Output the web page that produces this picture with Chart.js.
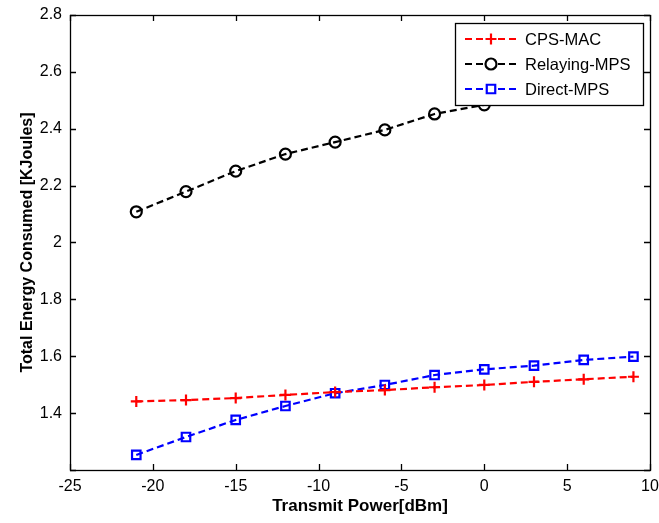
<!DOCTYPE html>
<html>
<head>
<meta charset="utf-8">
<script src="https://cdn.jsdelivr.net/npm/chart.js@4.4.1/dist/chart.umd.min.js"></script>
<style>
  html, body { margin: 0; padding: 0; background: #fff; }
  #wrap { width: 659px; height: 523px; }
</style>
</head>
<body>
<div id="wrap"><canvas id="chart" width="659" height="523"></canvas></div>
<script>
// valores
var potencia = [-21, -18, -15, -12, -9, -6, -3, 0, 3, 6, 9];
var cpsMac = [1.441, 1.446, 1.453, 1.464, 1.474, 1.481, 1.491, 1.499, 1.510, 1.519, 1.528];
var relayingMps = [2.108, 2.179, 2.251, 2.311, 2.353, 2.396, 2.452, 2.484, 2.510, 2.540, 2.570];
var directMps = [1.253, 1.316, 1.376, 1.425, 1.470, 1.499, 1.534, 1.554, 1.567, 1.587, 1.599];
var xTicks = [-25, -20, -15, -10, -5, 0, 5, 10];
var yTicks = [1.2, 1.4, 1.6, 1.8, 2.0, 2.2, 2.4, 2.6, 2.8];

function pares(ys) {
    return potencia.map(function(x, i) { return { x: x, y: ys[i] }; });
}

function serie(label, ys, color, estilo) {
    return {
        label: label,
        data: pares(ys),
        borderColor: color,
        backgroundColor: 'rgba(0,0,0,0)',
        borderWidth: 2.2,
        borderDash: [7, 4],
        pointStyle: estilo,
        pointRadius: estilo === 'rect' ? 6 : 5.5,
        pointBorderWidth: 2.2,
        pointBorderColor: color,
        pointBackgroundColor: 'rgba(0,0,0,0)',
        tension: 0
    };
}

// marco y marcas hacia dentro, estilo matlab
var marco = {
    id: 'marco',
    afterDraw: function(chart) {
        var ctx = chart.ctx;
        var a = chart.chartArea;
        var sx = chart.scales.x, sy = chart.scales.y;
        ctx.save();
        ctx.strokeStyle = '#000';
        ctx.lineWidth = 1.3;
        ctx.strokeRect(Math.round(a.left) + 0.5, Math.round(a.top) + 0.5,
                       Math.round(a.right - a.left), Math.round(a.bottom - a.top));
        ctx.beginPath();
        xTicks.forEach(function(v) {
            var px = Math.round(sx.getPixelForValue(v)) + 0.5;
            ctx.moveTo(px, a.bottom); ctx.lineTo(px, a.bottom - 6);
            ctx.moveTo(px, a.top); ctx.lineTo(px, a.top + 6);
        });
        yTicks.forEach(function(v) {
            var py = Math.round(sy.getPixelForValue(v)) + 0.5;
            ctx.moveTo(a.left, py); ctx.lineTo(a.left + 6, py);
            ctx.moveTo(a.right, py); ctx.lineTo(a.right - 6, py);
        });
        ctx.stroke();

        // leyenda dentro del grafico
        var lx = 455, ly = 23, lw = 188, lh = 82;
        ctx.fillStyle = '#fff';
        ctx.fillRect(lx, ly, lw, lh);
        ctx.strokeRect(lx + 0.5, ly + 0.5, lw, lh);
        ctx.font = '16.5px "Liberation Sans", Arial, sans-serif';
        ctx.textBaseline = 'middle';
        chart.data.datasets.forEach(function(ds, i) {
            var yy = ly + 16 + i * 25;
            ctx.strokeStyle = ds.borderColor;
            ctx.lineWidth = 2.2;
            ctx.setLineDash(ds.borderDash);
            ctx.beginPath();
            ctx.moveTo(465, yy); ctx.lineTo(517, yy);
            ctx.stroke();
            ctx.setLineDash([]);
            ctx.fillStyle = '#fff';
            Chart.helpers.drawPoint(ctx, {
                pointStyle: ds.pointStyle,
                radius: ds.pointRadius,
                borderWidth: 2.2
            }, 491, yy);
            ctx.fillStyle = '#000';
            ctx.fillText(ds.label, 525, yy + 1);
        });
        ctx.restore();
    }
};

var ctx = document.getElementById('chart');
var grafico = new Chart(ctx, {
    type: 'line',
    data: {
        datasets: [
            serie('CPS-MAC', cpsMac, '#ff0000', 'cross'),
            serie('Relaying-MPS', relayingMps, '#000000', 'circle'),
            serie('Direct-MPS', directMps, '#0000ff', 'rect')
        ]
    },
    options: {
        responsive: false,
        animation: false,
        layout: { padding: { left: 0, right: 9, top: 15, bottom: 0 } },
        plugins: {
            legend: { display: false },
            tooltip: { enabled: false }
        },
        scales: {
            x: {
                type: 'linear',
                min: -25,
                max: 10,
                afterBuildTicks: function(s) { s.ticks = xTicks.map(function(v) { return { value: v }; }); },
                afterFit: function(s) { s.height = 53; s.paddingLeft = 0; s.paddingRight = 0; },
                grid: { display: false, drawTicks: false },
                border: { display: false },
                ticks: {
                    color: '#000',
                    padding: 7,
                    maxRotation: 0,
                    font: { family: '"Liberation Sans", Arial, sans-serif', size: 16 }
                },
                title: {
                    display: true,
                    text: 'Transmit Power[dBm]',
                    color: '#000',
                    padding: { top: 0, bottom: 6 },
                    font: { family: '"Liberation Sans", Arial, sans-serif', size: 17, weight: 'bold' }
                }
            },
            y: {
                type: 'linear',
                min: 1.2,
                max: 2.8,
                afterBuildTicks: function(s) { s.ticks = yTicks.map(function(v) { return { value: v }; }); },
                afterFit: function(s) { s.width = 70; s.paddingTop = 0; s.paddingBottom = 0; },
                grid: { display: false, drawTicks: false },
                border: { display: false },
                ticks: {
                    color: '#000',
                    padding: 8,
                    font: { family: '"Liberation Sans", Arial, sans-serif', size: 16 },
                    callback: function(v) {
                        if (Math.abs(v - 1.2) < 1e-9) return '';
                        return String(parseFloat(v.toFixed(1)));
                    }
                },
                title: {
                    display: true,
                    text: 'Total Energy Consumed [KJoules]',
                    color: '#000',
                    padding: { top: 18, bottom: 0 },
                    font: { family: '"Liberation Sans", Arial, sans-serif', size: 16, weight: 'bold' }
                }
            }
        }
    },
    plugins: [marco]
});
</script>
</body>
</html>
